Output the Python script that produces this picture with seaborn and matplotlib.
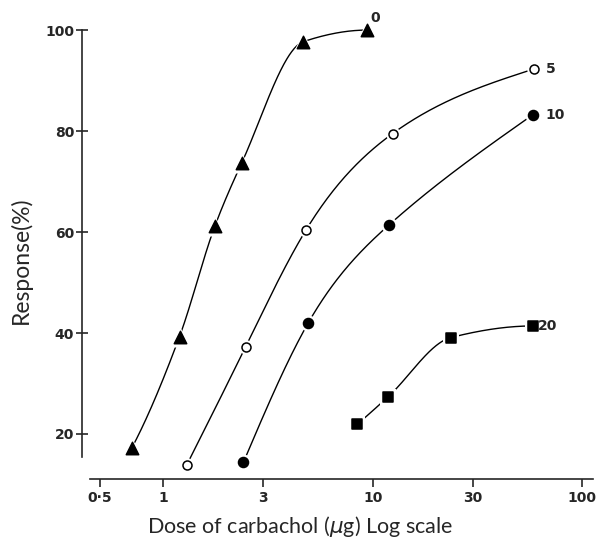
import numpy as np
import matplotlib
matplotlib.use("Agg")
import matplotlib.pyplot as plt
import seaborn as sns

# ---- data ----
dose_0 = [0.71, 1.20, 1.77, 2.37, 4.67, 9.43]
resp_0 = [17.2, 39.3, 61.2, 73.6, 97.7, 100.0]
dose_5 = [1.30, 2.48, 4.81, 12.45, 58.8]
resp_5 = [13.9, 37.3, 60.4, 79.5, 92.3]
dose_10 = [2.42, 4.93, 11.96, 57.9]
resp_10 = [14.4, 42.0, 61.4, 83.2]
dose_20 = [8.45, 11.87, 23.6, 58.3]
resp_20 = [21.9, 27.4, 39.1, 41.4]
series_labels = ["0", "5", "10", "20"]
xtick_vals = [0.5, 1, 3, 10, 30, 100]
xtick_labels = ["0·5", "1", "3", "10", "30", "100"]
ytick_vals = [20, 40, 60, 80, 100]


def natural_spline(x, y, xn):
    """Natural cubic spline through (x, y) evaluated at xn."""
    x = np.asarray(x, float); y = np.asarray(y, float)
    n = len(x)
    h = np.diff(x)
    A = np.zeros((n, n)); r = np.zeros(n)
    A[0, 0] = 1; A[-1, -1] = 1
    for i in range(1, n - 1):
        A[i, i - 1] = h[i - 1]
        A[i, i] = 2 * (h[i - 1] + h[i])
        A[i, i + 1] = h[i]
        r[i] = 6 * ((y[i + 1] - y[i]) / h[i] - (y[i] - y[i - 1]) / h[i - 1])
    M = np.linalg.solve(A, r)
    idx = np.clip(np.searchsorted(x, xn) - 1, 0, n - 2)
    x0 = x[idx]; x1 = x[idx + 1]; hh = h[idx]
    a = (x1 - xn) / hh; b = (xn - x0) / hh
    return (a * y[idx] + b * y[idx + 1]
            + ((a**3 - a) * M[idx] + (b**3 - b) * M[idx + 1]) * hh**2 / 6)


def pchip(x, y, xn):
    """Monotone cubic (Fritsch-Carlson) interpolation."""
    x = np.asarray(x, float); y = np.asarray(y, float)
    h = np.diff(x); d = np.diff(y) / h
    n = len(x)
    m = np.zeros(n)
    for k in range(1, n - 1):
        if d[k - 1] * d[k] > 0:
            w1 = 2 * h[k] + h[k - 1]; w2 = h[k] + 2 * h[k - 1]
            m[k] = (w1 + w2) / (w1 / d[k - 1] + w2 / d[k])
    m[0] = ((2 * h[0] + h[1]) * d[0] - h[0] * d[1]) / (h[0] + h[1])
    if np.sign(m[0]) != np.sign(d[0]): m[0] = 0
    m[-1] = ((2 * h[-1] + h[-2]) * d[-1] - h[-1] * d[-2]) / (h[-1] + h[-2])
    if np.sign(m[-1]) != np.sign(d[-1]): m[-1] = 0
    idx = np.clip(np.searchsorted(x, xn) - 1, 0, n - 2)
    t = (xn - x[idx]) / h[idx]
    h00 = 2 * t**3 - 3 * t**2 + 1; h10 = t**3 - 2 * t**2 + t
    h01 = -2 * t**3 + 3 * t**2; h11 = t**3 - t**2
    return h00 * y[idx] + h10 * h[idx] * m[idx] + h01 * y[idx + 1] + h11 * h[idx] * m[idx + 1]


sns.set_style("ticks")
plt.rcParams["font.family"] = ["Lato", "DejaVu Sans"]
plt.rcParams["mathtext.fontset"] = "dejavusans"

fig = plt.figure(figsize=(5.96, 5.38), dpi=100)
ax = fig.add_axes([0.1384, 0.1097, 0.8565, 0.853])

series = [
    (dose_0, resp_0, "^", "black", 80, pchip),
    (dose_5, resp_5, "o", "white", 42, natural_spline),
    (dose_10, resp_10, "o", "black", 52, natural_spline),
    (dose_20, resp_20, "s", "black", 46, pchip),
]

for (xs, ys, mk, fc, s, interp), lab in zip(series, series_labels):
    lx = np.log10(xs)
    xn = np.linspace(lx[0], lx[-1], 300)
    yn = interp(lx, ys, xn)
    sns.lineplot(x=10 ** xn, y=yn, ax=ax, color="black", lw=1.0,
                 estimator=None, sort=False, zorder=2)
    # white halo to create the small gaps around markers
    sns.scatterplot(x=xs, y=ys, ax=ax, marker=mk, s=s * 2.6, color="white",
                    edgecolor="white", linewidth=0, zorder=3)
    sns.scatterplot(x=xs, y=ys, ax=ax, marker=mk, s=s, color=fc,
                    edgecolor="black", linewidth=1.1, zorder=4)

offsets = {"0": (3, 12), "5": (12, 0), "10": (13, 0), "20": (5, 0)}
for (xs, ys, *_), lab in zip(series, series_labels):
    ax.annotate(lab, (xs[-1], ys[-1]), xytext=offsets[lab], textcoords="offset pixels",
                ha="left", va="center", fontsize=10, fontweight="bold",
                family="DejaVu Sans", zorder=5)

ax.set_xscale("log")
ax.set_xlim(0.4135, 112.3)
ax.set_ylim(11.09, 101.98)
ax.set_xticks(xtick_vals)
ax.set_xticklabels(xtick_labels)
ax.xaxis.set_minor_locator(matplotlib.ticker.NullLocator())
ax.set_yticks(ytick_vals)
ax.set_yticklabels([str(v) for v in ytick_vals])

for sp in ["top", "right"]:
    ax.spines[sp].set_visible(False)
ax.spines["left"].set_bounds(15.5, 100)
ax.spines["bottom"].set_bounds(0.45, 112.3)
ax.spines["left"].set_linewidth(1.2)
ax.spines["bottom"].set_linewidth(1.2)
ax.tick_params(axis="y", direction="inout", length=8, width=1.2, pad=2, labelsize=10)
ax.tick_params(axis="x", direction="out", length=6, width=1.2, pad=3, labelsize=10)
for t in ax.get_xticklabels() + ax.get_yticklabels():
    t.set_fontweight("bold")
    t.set_family("DejaVu Sans")

ax.set_xlabel(r"Dose of carbachol ($\mu$g) Log scale", fontsize=15.5)
ax.set_ylabel("Response(%)", fontsize=16.5)
ax.xaxis.set_label_coords(0.426, -0.1045)
ax.xaxis.label.set_va("center")
ax.yaxis.set_label_coords(-0.121, 0.477)
ax.yaxis.label.set_va("center")
ax.yaxis.label.set_ha("center")

fig.savefig("out.png", dpi=100)
